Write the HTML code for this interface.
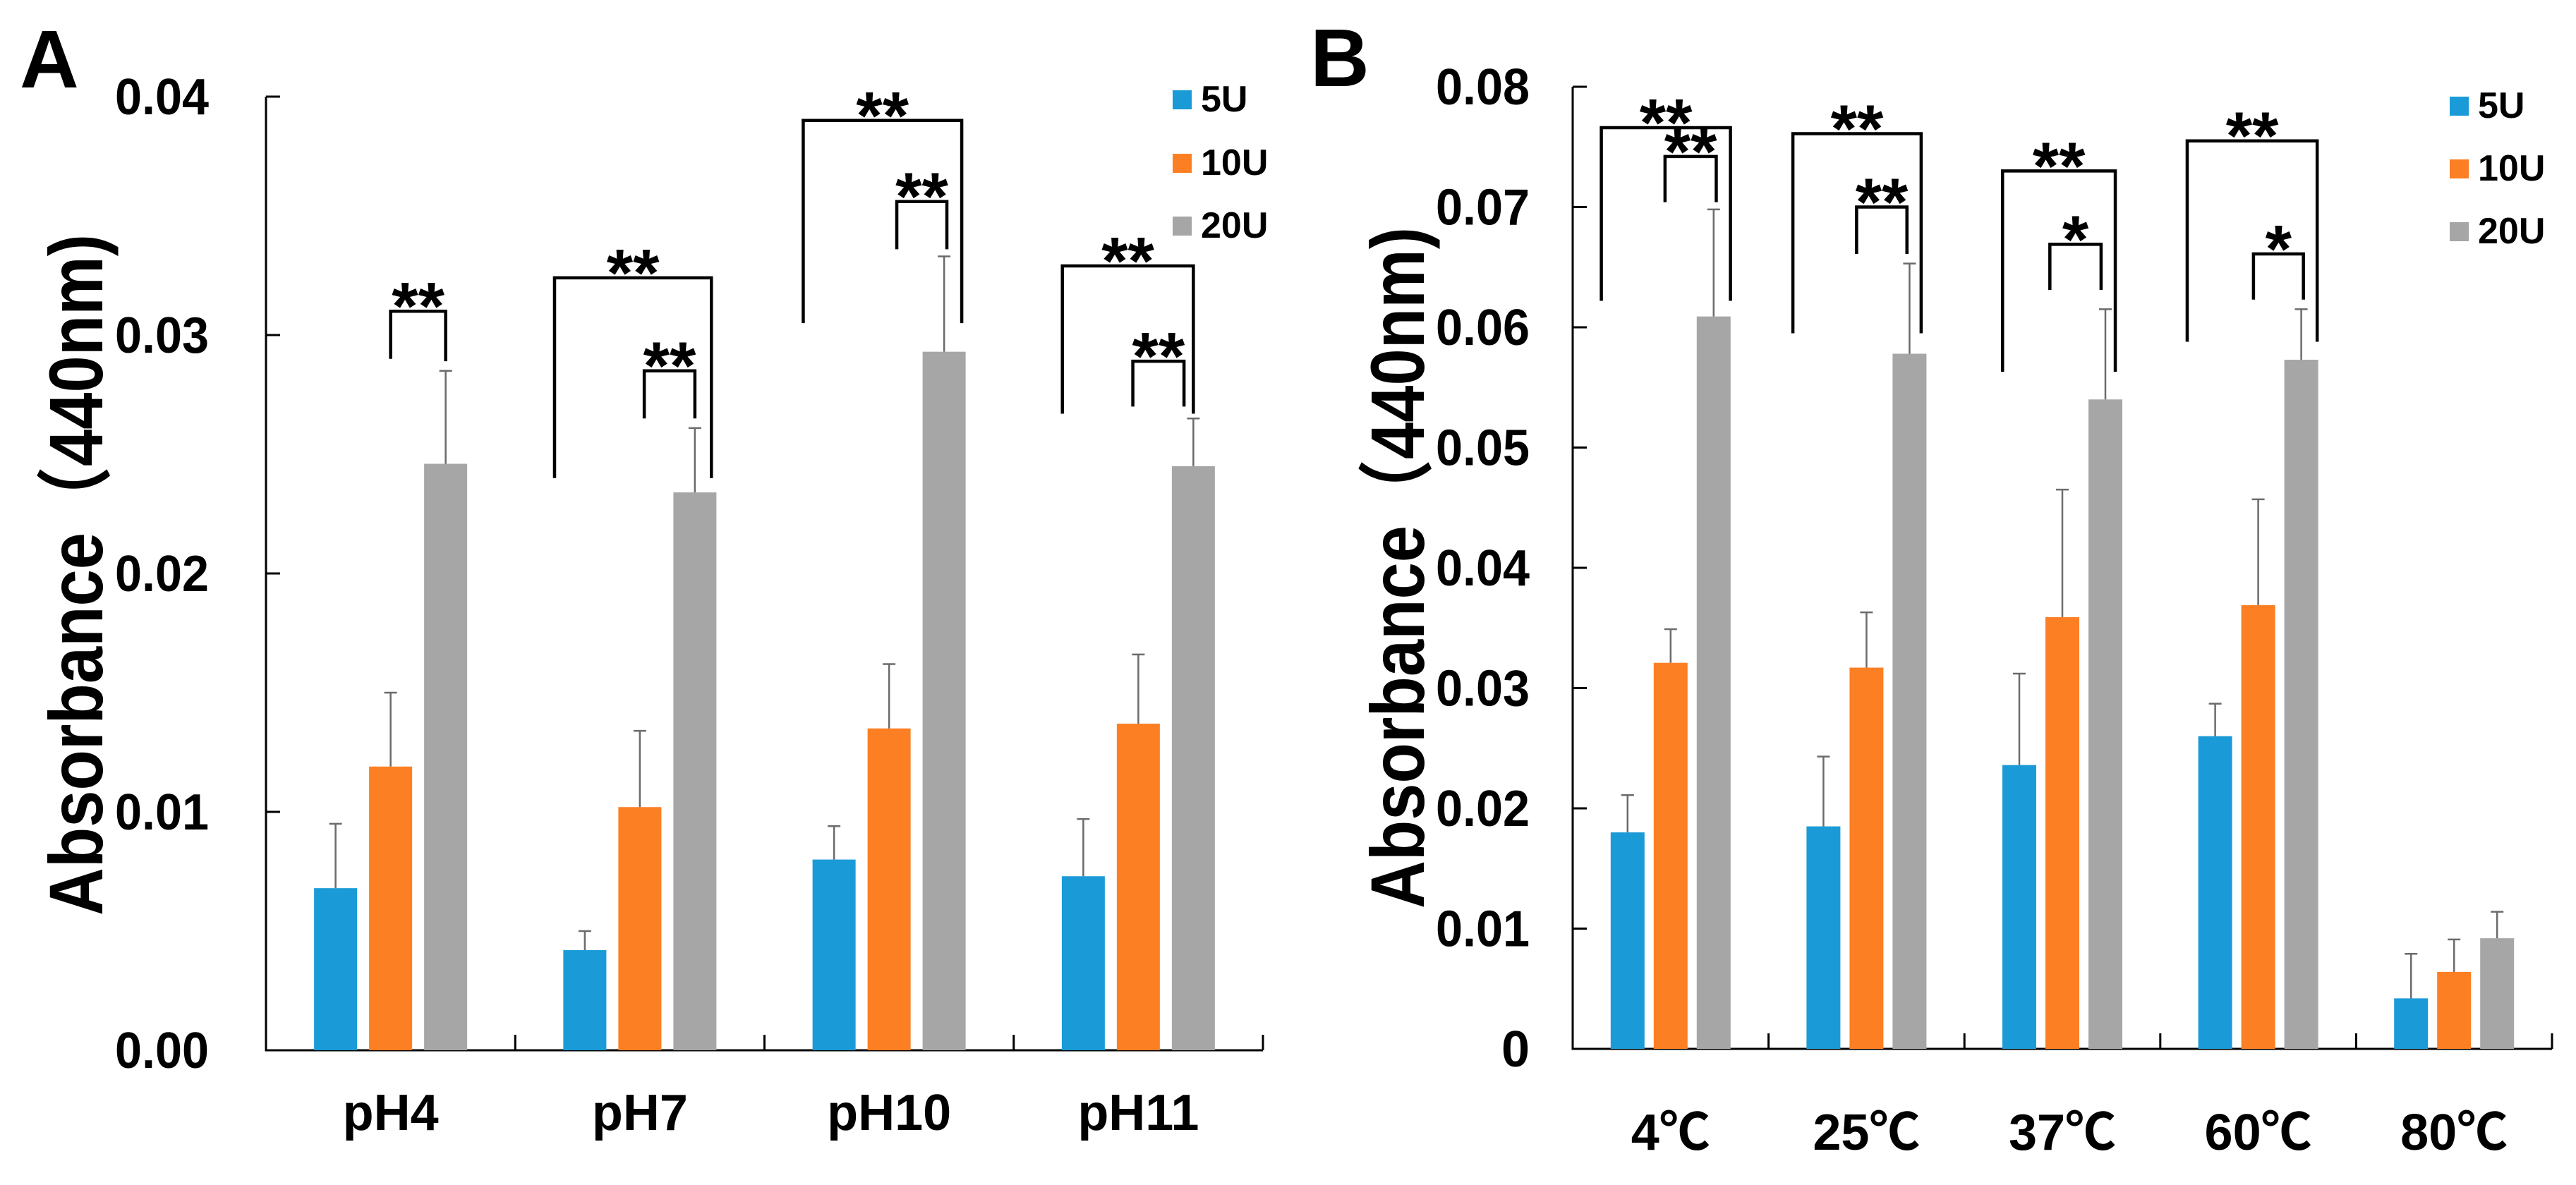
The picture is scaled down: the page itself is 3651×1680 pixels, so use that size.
<!DOCTYPE html>
<html><head><meta charset="utf-8">
<style>
html,body{margin:0;padding:0;background:#fff;}
svg{display:block;}
text{font-family:"Liberation Sans","Noto Sans CJK SC",sans-serif;font-weight:bold;fill:#000;}
</style></head>
<body>
<svg id="chart" width="3651" height="1680" viewBox="0 0 3651 1680" xmlns="http://www.w3.org/2000/svg"></svg>
<script>
// ---------- Panel A data ----------
const catsA = ["pH4","pH7","pH10","pH11"];
const a5U  = [0.0068,0.0042,0.0080,0.0073];
const a5Ue = [0.0095,0.0050,0.0094,0.0097];
const a10U = [0.0119,0.0102,0.0135,0.0137];
const a10Ue= [0.0150,0.0134,0.0162,0.0166];
const a20U = [0.0246,0.0234,0.0293,0.0245];
const a20Ue= [0.0285,0.0261,0.0333,0.0265];
const ticksA = ["0.00","0.01","0.02","0.03","0.04"];
const tickValsA = [0,0.01,0.02,0.03,0.04];
// brackets: [cat, leftOffset, rightOffset, top, leftBottom, rightBottom, label]
const bracketsA = [
  [0,0.0,1.0,0.0310,0.0290,0.0289,"**"],
  [1,-1.55,1.3,0.0324,0.0240,0.0240,"**"],
  [1,0.08,1.0,0.0285,0.0265,0.0265,"**"],
  [2,-1.56,1.32,0.0390,0.0305,0.0305,"**"],
  [2,0.14,1.05,0.0356,0.0336,0.0336,"**"],
  [3,-1.38,1.0,0.0329,0.0267,0.0267,"**"],
  [3,-0.1,0.83,0.0289,0.0270,0.0270,"**"]
];
// ---------- Panel B data ----------
const catsB = ["4℃","25℃","37℃","60℃","80℃"];
const b5U  = [0.0180,0.0185,0.0236,0.0260,0.0042];
const b5Ue = [0.0211,0.0243,0.0312,0.0287,0.0079];
const b10U = [0.0321,0.0317,0.0359,0.0369,0.0064];
const b10Ue= [0.0349,0.0363,0.0465,0.0457,0.0091];
const b20U = [0.0609,0.0578,0.0540,0.0573,0.0092];
const b20Ue= [0.0698,0.0653,0.0615,0.0615,0.0114];
const ticksB = ["0","0.01","0.02","0.03","0.04","0.05","0.06","0.07","0.08"];
const tickValsB = [0,0.01,0.02,0.03,0.04,0.05,0.06,0.07,0.08];
const bracketsB = [
  [0,-1.61,1.39,0.0766,0.0622,0.0622,"**"],
  [0,-0.13,1.06,0.0742,0.0704,0.0704,"**"],
  [1,-1.71,1.27,0.0761,0.0595,0.0595,"**"],
  [1,-0.23,0.94,0.0700,0.0661,0.0661,"**"],
  [2,-1.39,1.23,0.0730,0.0563,0.0563,"**"],
  [2,-0.29,0.90,0.0669,0.0631,0.0631,"*"],
  [3,-1.65,1.37,0.0755,0.0588,0.0588,"**"],
  [3,-0.11,1.05,0.0661,0.0623,0.0623,"*"]
];
const seriesNames = ["5U","10U","20U"];
const colors = ["#1a9bd7","#fd7f23","#a6a6a6"];

const NS="http://www.w3.org/2000/svg";
const svg=document.getElementById('chart');
function mk(tag,attrs,parent){const e=document.createElementNS(NS,tag);for(const k in attrs)e.setAttribute(k,attrs[k]);(parent||svg).appendChild(e);return e;}

function panel(cfg){
  const g=mk('g',{});
  
  
  const y=v=>cfg.y0-(v/cfg.vmax)*(cfg.y0-cfg.ytop);
  const catW=(cfg.xEnd-cfg.x0)/cfg.cats.length;
  const cx=i=>cfg.x0+catW*(i+0.5);
  const ax=mk('line',{x1:cfg.x0,y1:cfg.ytop,x2:cfg.x0,y2:cfg.y0+1.5,stroke:'#000','stroke-width':3},g);
  
  const xx=mk('line',{x1:cfg.x0-1.5,y1:cfg.y0,x2:cfg.xEnd,y2:cfg.y0,stroke:'#000','stroke-width':3},g);
  
  cfg.tickVals.forEach((v,i)=>{
    const t=mk('line',{x1:cfg.x0,y1:y(v),x2:cfg.x0+20,y2:y(v),stroke:'#000','stroke-width':3},g);
    
    const lb=mk('text',{x:cfg.labelRight,y:y(v)+25,'font-size':72,'text-anchor':'end'},g);
    lb.textContent=cfg.ticks[i];
    
    if(cfg.ticks[i].length===4){lb.setAttribute('textLength',133);lb.setAttribute('lengthAdjust','spacingAndGlyphs');}
  });
  for(let i=1;i<=cfg.cats.length;i++){
    const xp=cfg.x0+catW*i;
    const t=mk('line',{x1:xp,y1:cfg.y0,x2:xp,y2:cfg.y0-22,stroke:'#000','stroke-width':3},g);
    
  }
  cfg.cats.forEach((c,i)=>{
    const lb=mk('text',{x:cx(i),y:cfg.catLabelY,'font-size':72,'text-anchor':'middle'},g);
    lb.textContent=c;
    
  });
  cfg.series.forEach((s,si)=>{
    s.vals.forEach((v,i)=>{
      const xc=cx(i)+(si-1)*cfg.spacing;
      const top=y(v);
      const r=mk('rect',{x:xc-cfg.barW/2,y:top,width:cfg.barW,height:cfg.y0-top,fill:colors[si]},g);
      
      
      const et=y(s.errs[i]);
      const el=mk('line',{x1:xc,y1:top,x2:xc,y2:et,stroke:'#6b6b6b','stroke-width':2.5},g);
      
      const ec=mk('line',{x1:xc-9,y1:et,x2:xc+9,y2:et,stroke:'#6b6b6b','stroke-width':2.5},g);
      
    });
  });
  cfg.brackets.forEach(b=>{
    const c=cx(b[0]);
    const xl=c+b[1]*cfg.spacing, xr=c+b[2]*cfg.spacing;
    const yt=y(b[3]);
    const p=mk('path',{d:`M${xl},${y(b[4])} L${xl},${yt} L${xr},${yt} L${xr},${y(b[5])}`,fill:'none',stroke:'#000','stroke-width':4.5},g);
    
    const st=mk('text',{x:(xl+xr)/2,y:yt+26,'font-size':96,'text-anchor':'middle'},g);
    st.textContent=b[6];
    
  });
  const tt=mk('text',{x:0,y:0,'font-size':108,'text-anchor':'middle',transform:`translate(${cfg.titleX},${cfg.titleY}) rotate(-90)`,textLength:cfg.titleLen,lengthAdjust:'spacingAndGlyphs'},g);
  tt.textContent='Absorbance（440nm)';
  
  const pl=mk('text',{x:cfg.letterX,y:cfg.letterY,'font-size':116},g);
  pl.textContent=cfg.letter;
  
  seriesNames.forEach((n,i)=>{
    const ly=cfg.legY[i];
    const sq=mk('rect',{x:cfg.legX,y:ly-30,width:27,height:27,fill:colors[i]},g);
    
    const lt=mk('text',{x:cfg.legX+40,y:ly,'font-size':52},g);
    lt.textContent=n;
    
  });
}

panel({name:'panel-a',letter:'A',letterX:28,letterY:124,x0:377,xEnd:1790,y0:1489,ytop:137,vmax:0.04,
  cats:catsA,ticks:ticksA,tickVals:tickValsA,labelRight:296,catLabelY:1602,spacing:78,barW:61,
  series:[{vals:a5U,errs:a5Ue},{vals:a10U,errs:a10Ue},{vals:a20U,errs:a20Ue}],
  brackets:bracketsA,titleX:145,titleY:815,titleLen:966,legX:1662,legY:[158,248,337]});
panel({name:'panel-b',letter:'B',letterX:1857,letterY:122,x0:2229,xEnd:3617,y0:1487,ytop:123,vmax:0.08,
  cats:catsB,ticks:ticksB,tickVals:tickValsB,labelRight:2168,catLabelY:1630,spacing:61,barW:48,
  series:[{vals:b5U,errs:b5Ue},{vals:b10U,errs:b10Ue},{vals:b20U,errs:b20Ue}],
  brackets:bracketsB,titleX:2018,titleY:805,titleLen:966,legX:3472,legY:[167,256,345]});
</script>
</body></html>
